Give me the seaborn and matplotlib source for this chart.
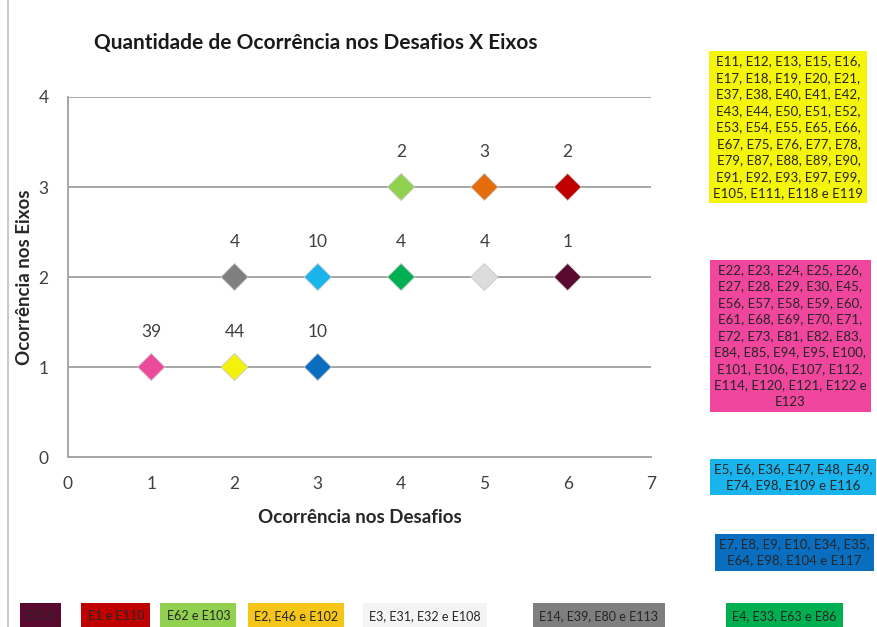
import pandas as pd
import matplotlib.pyplot as plt
import seaborn as sns
from matplotlib.lines import Line2D

# dados
desafios = [1, 2, 3, 2, 3, 4, 5, 6, 4, 5, 6]
eixos = [1, 1, 1, 2, 2, 2, 2, 2, 3, 3, 3]
quantidade = [39, 44, 10, 4, 10, 4, 4, 1, 2, 3, 2]
cores = ["#EE4A9C", "#F2F20A", "#0A6EC0", "#7F7F7F", "#1AB4EC", "#00B050",
         "#DCDCDC", "#5A0A2E", "#92D050", "#E46C0A", "#C00000"]

# caixas de texto (desafios por grupo)
grupos_lateral = [
    "E11, E12, E13, E15, E16,\nE17, E18, E19, E20, E21,\nE37, E38, E40, E41, E42,\n"
    "E43, E44, E50, E51, E52,\nE53, E54, E55, E65, E66,\nE67, E75, E76, E77, E78,\n"
    "E79, E87, E88, E89, E90,\nE91, E92, E93, E97, E99,\nE105, E111, E118 e E119",
    "E22, E23, E24, E25, E26,\nE27, E28, E29, E30, E45,\nE56, E57, E58, E59, E60,\n"
    "E61, E68, E69, E70, E71,\nE72, E73, E81, E82, E83,\nE84, E85, E94, E95, E100,\n"
    "E101, E106, E107, E112,\nE114, E120, E121, E122 e\nE123",
    "E5, E6, E36, E47, E48, E49,\nE74, E98, E109 e E116",
    "E7, E8, E9, E10, E34, E35,\nE64, E98, E104 e E117",
]
cores_lateral = ["#F5F50A", "#F0469E", "#1AB4EC", "#0A6EC0"]

grupos_base = ["E115", "E1 e E110", "E62 e E103", "E2, E46 e E102",
               "E3, E31, E32 e E108", "E14, E39, E80 e E113", "E4, E33, E63 e E86"]
cores_base = ["#5A0A2E", "#C00000", "#92D050", "#F5C518",
              "#F4F4F4", "#7F7F7F", "#00B050"]

df = pd.DataFrame({"x": desafios, "y": eixos, "n": quantidade,
                   "grupo": [str(i) for i in range(len(desafios))]})

sns.set_theme(style="white")
plt.rcParams["font.family"] = ["Lato", "DejaVu Sans"]

fig = plt.figure(figsize=(8.78, 6.27), dpi=100)
ax = fig.add_axes([0.0774, 0.2711, 0.664, 0.5742])

ax.set_axisbelow(True)
ax.yaxis.grid(True, color="#A6A6A6", linewidth=1.4)
sns.scatterplot(data=df, x="x", y="y", hue="grupo",
                palette=dict(zip(df["grupo"], cores)), marker="D", s=190,
                edgecolor="#C8C8C8", linewidth=0.6, legend=False, ax=ax, zorder=3)

for xi, yi, ni in zip(desafios, eixos, quantidade):
    ax.annotate(str(ni), (xi, yi), xytext=(0, 25), textcoords="offset points",
                ha="center", va="center", fontsize=12.5, color="#404040")

ax.set_xlim(0, 7)
ax.set_ylim(0, 4)
ax.set_xticks(range(0, 8))
ax.set_yticks(range(0, 5))
ax.tick_params(axis="both", labelsize=12.5, colors="#404040", length=0, pad=14)
ax.tick_params(axis="x", length=5, color="#A6A6A6", direction="out", pad=9)
for lado in ["top", "right"]:
    ax.spines[lado].set_visible(False)
for lado in ["left", "bottom"]:
    ax.spines[lado].set_color("#A6A6A6")
    ax.spines[lado].set_linewidth(1.4)

ax.set_xlabel("Ocorrência nos Desafios", fontsize=13.5, fontweight="bold",
              color="#262626", labelpad=12)
ax.set_ylabel("Ocorrência nos Eixos", fontsize=13.5, fontweight="bold",
              color="#262626", labelpad=4)
fig.text(0.36, 0.931, "Quantidade de Ocorrência nos Desafios X Eixos",
         ha="center", va="center", fontsize=15, fontweight="bold", color="#1a1a1a")

# borda esquerda
fig.add_artist(Line2D([0.009, 0.009], [0, 1], color="#BFBFBF", linewidth=1.2,
                      transform=fig.transFigure))

# caixas da direita
pos_lateral = [(0.898, 0.797), (0.900, 0.464), (0.903, 0.239), (0.905, 0.119)]
for txt, cor, (px, py) in zip(grupos_lateral, cores_lateral, pos_lateral):
    fig.text(px, py, txt, ha="center", va="center", fontsize=9.5,
             color="#262626", linespacing=1.45,
             bbox=dict(boxstyle="square,pad=0.3", facecolor=cor, edgecolor="none"))

# caixas de baixo
pos_base = [0.046, 0.132, 0.226, 0.337, 0.484, 0.682, 0.893]
for txt, cor, px in zip(grupos_base, cores_base, pos_base):
    fig.text(px, 0.018, txt, ha="center", va="center", fontsize=9,
             color="#262626",
             bbox=dict(boxstyle="square,pad=0.5", facecolor=cor, edgecolor="none"))

fig.savefig("out.png", dpi=100)
